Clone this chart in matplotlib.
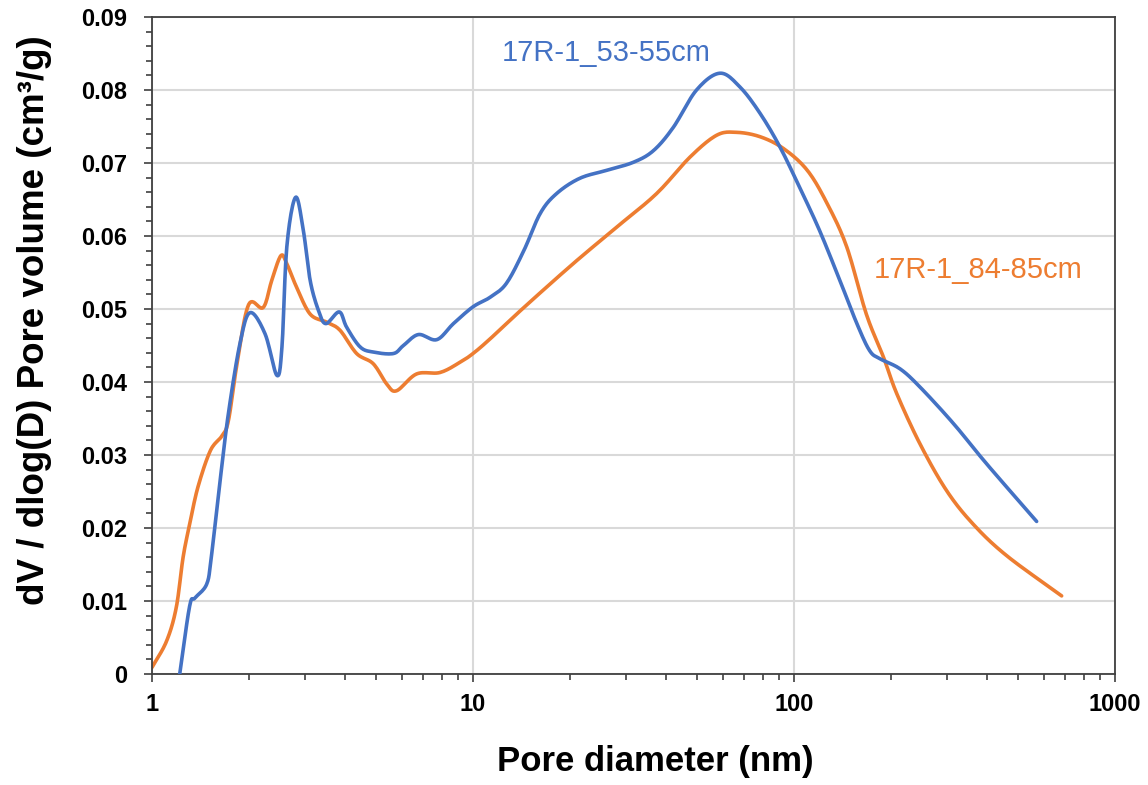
import numpy as np
import matplotlib
matplotlib.use("Agg")
import matplotlib.pyplot as plt
from matplotlib.ticker import FixedLocator, NullFormatter, MultipleLocator, FuncFormatter

# ---- data ----
d_53 = [1.22, 1.31, 1.36, 1.48, 1.53, 1.63, 1.73, 1.88, 2.02, 2.25, 2.45, 2.54, 2.63, 2.80,
        2.96, 3.11, 3.30, 3.48, 3.83, 4.04, 4.45, 4.89, 5.65, 6.07, 6.76, 7.71, 8.69, 10.0,
        11.3, 12.7, 14.4, 16.2, 18.2, 21.5, 26.1, 31.6, 36.5, 42.1, 49.7, 58.8, 67.9, 78.4,
        90.4, 104, 120, 139, 157, 172, 185, 214, 247, 314, 398, 570]
v_53 = [0.0, 0.0093, 0.0104, 0.0123, 0.016, 0.0265, 0.0357, 0.0453, 0.0495, 0.0466, 0.0409,
        0.0448, 0.0585, 0.0653, 0.0608, 0.0539, 0.0498, 0.0480, 0.0496, 0.0475, 0.0448, 0.0441,
        0.0439, 0.0450, 0.0465, 0.0458, 0.0480, 0.0503, 0.0516, 0.0535, 0.0580, 0.0631, 0.0658,
        0.0679, 0.0690, 0.0701, 0.0717, 0.0749, 0.0800, 0.0823, 0.0804, 0.0768, 0.0722, 0.0667,
        0.0608, 0.0539, 0.0480, 0.0443, 0.0432, 0.0418, 0.0393, 0.0343, 0.0288, 0.0209]

d_84 = [1.0, 1.11, 1.19, 1.25, 1.31, 1.39, 1.52, 1.65, 1.73, 1.84, 2.0, 2.22, 2.36, 2.52, 2.63,
        2.82, 3.11, 3.5, 3.85, 4.34, 4.89, 5.39, 5.78, 6.67, 7.89, 9.11, 10.0, 11.3, 14.4, 20.5,
        28.0, 37.3, 47.4, 57.4, 66.2, 78.4, 92.6, 110, 127, 146, 168, 190, 209, 247, 299, 362,
        460, 682]
v_84 = [0.0009, 0.0045, 0.0091, 0.016, 0.0205, 0.0256, 0.0306, 0.0326, 0.0347, 0.0425, 0.0506,
        0.0502, 0.0539, 0.0573, 0.0562, 0.0530, 0.0493, 0.0482, 0.0471, 0.0439, 0.0425, 0.0397,
        0.0388, 0.0411, 0.0413, 0.0427, 0.0439, 0.0459, 0.0502, 0.0562, 0.0612, 0.0658, 0.0708,
        0.0738, 0.0742, 0.0736, 0.0720, 0.0690, 0.0644, 0.0585, 0.0493, 0.0434, 0.0384, 0.0315,
        0.0251, 0.0205, 0.0162, 0.0107]

label_53 = "17R-1_53-55cm"
label_84 = "17R-1_84-85cm"
x_ticks = [1, 10, 100, 1000]
y_ticks = [0, 0.01, 0.02, 0.03, 0.04, 0.05, 0.06, 0.07, 0.08, 0.09]

blue = "#4472C4"
orange = "#ED7D31"


def smooth(x, y, n=12):
    """Catmull-Rom smoothing in (log10 x, y) space, like Excel's smoothed lines."""
    lx = np.log10(np.asarray(x, float))
    y = np.asarray(y, float)
    P = np.column_stack([lx, y])
    P = np.vstack([2 * P[0] - P[1], P, 2 * P[-1] - P[-2]])
    out = []
    for i in range(1, len(P) - 2):
        p0, p1, p2, p3 = P[i - 1], P[i], P[i + 1], P[i + 2]
        t = np.linspace(0, 1, n, endpoint=False)[:, None]
        seg = 0.5 * ((2 * p1) + (-p0 + p2) * t + (2 * p0 - 5 * p1 + 4 * p2 - p3) * t ** 2
                     + (-p0 + 3 * p1 - 3 * p2 + p3) * t ** 3)
        out.append(seg)
    out.append(P[-2][None, :])
    S = np.vstack(out)
    return 10 ** S[:, 0], S[:, 1]


plt.rcParams['font.family'] = ['Liberation Sans', 'DejaVu Sans']

fig = plt.figure(figsize=(11.48, 7.85), dpi=100)
ax = fig.add_axes([152 / 1148, 1 - 674 / 785, (1115 - 152) / 1148, (674 - 17) / 785])

xs, ys = smooth(d_53, v_53)
ax.plot(xs, ys, color=blue, lw=2.6, solid_capstyle='round', zorder=3)
xs, ys = smooth(d_84, v_84)
ax.plot(xs, ys, color=orange, lw=2.6, solid_capstyle='round', zorder=2)

ax.set_xscale('log')
ax.set_xlim(1, 1000)
ax.set_ylim(0, 0.09)

ax.xaxis.set_major_locator(FixedLocator(x_ticks))
ax.xaxis.set_major_formatter(FuncFormatter(lambda v, p: f"{v:g}"))
minors = [m * 10 ** e for e in range(0, 3) for m in range(2, 10)]
ax.xaxis.set_minor_locator(FixedLocator(minors))
ax.xaxis.set_minor_formatter(NullFormatter())

ax.yaxis.set_major_locator(FixedLocator(y_ticks))
ax.yaxis.set_major_formatter(FuncFormatter(lambda v, p: "0" if v == 0 else f"{v:.2f}"))
ax.yaxis.set_minor_locator(MultipleLocator(0.002))

ax.grid(True, which='major', color='#d9d9d9', lw=1.5, zorder=0)
ax.set_axisbelow(True)

for s in ax.spines.values():
    s.set_color('#404040')
    s.set_linewidth(1.3)

ax.tick_params(axis='both', which='major', direction='out', length=6, width=1.2,
               color='#404040', labelsize=17)
ax.tick_params(axis='both', which='minor', direction='out', length=4, width=1.2,
               color='#404040')
ax.tick_params(axis='x', which='major', pad=8)
ax.tick_params(axis='y', which='major', pad=12)
for lbl in ax.get_xticklabels() + ax.get_yticklabels():
    lbl.set_fontweight('bold')

ax.set_xlabel("Pore diameter (nm)", fontsize=25, fontweight='bold', labelpad=20)
ax.xaxis.set_label_coords(0.523, -0.108)
ax.set_ylabel("dV / dlog(D) Pore volume (cm³/g)", fontsize=26.5, fontweight='bold')
ax.yaxis.set_label_coords(-0.104, 0.539)

ax.text(0.472, 0.945, label_53, transform=ax.transAxes, color=blue, fontsize=21,
        ha='center', va='center')
ax.text(0.858, 0.615, label_84, transform=ax.transAxes, color=orange, fontsize=21,
        ha='center', va='center')

fig.savefig("out.png", dpi=100)
